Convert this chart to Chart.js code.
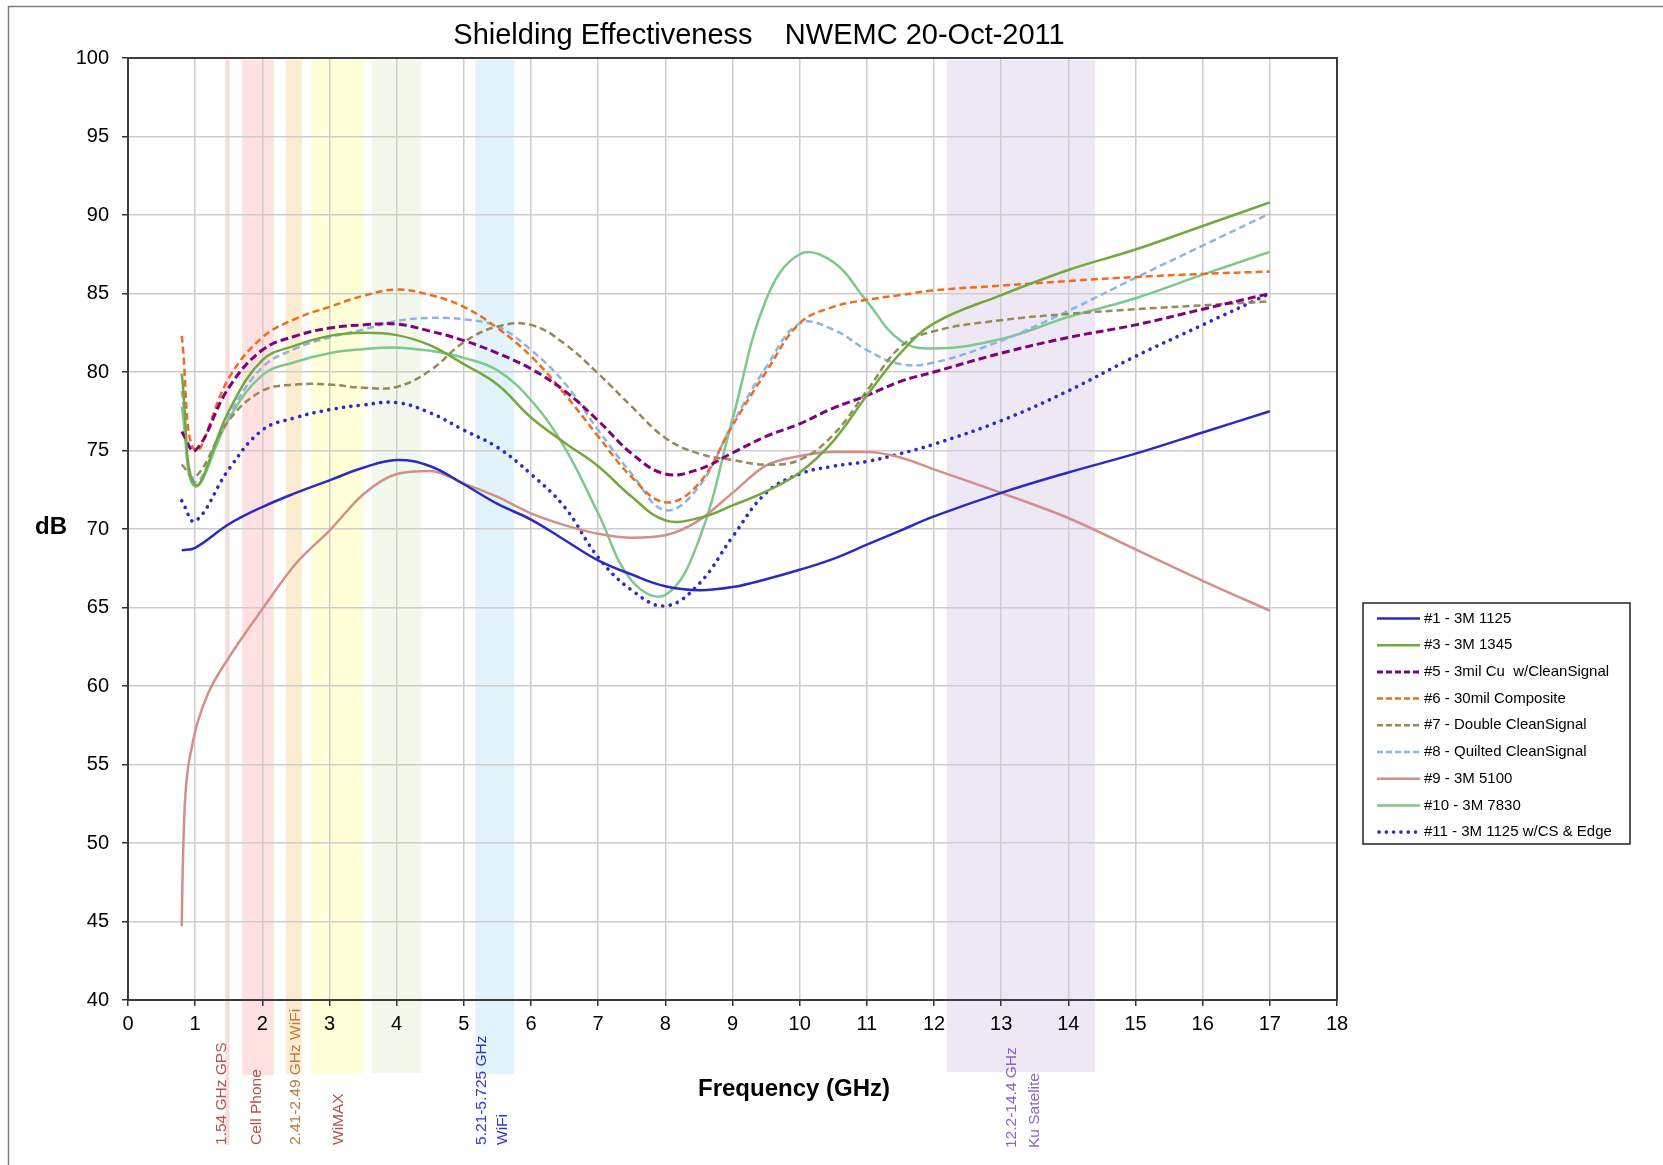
<!DOCTYPE html>
<html>
<head>
<meta charset="utf-8">
<title>Shielding Effectiveness</title>
<script src="https://cdn.jsdelivr.net/npm/chart.js@4.4.0/dist/chart.umd.min.js"></script>
<style>
  html, body { margin: 0; padding: 0; background: #fff; }
  #wrap { position: relative; width: 1663px; height: 1165px; }
</style>
</head>
<body>
<div id="wrap"><canvas id="seChart"></canvas></div>
<script>
// frequencies (GHz) where the curves were read
const freqs = [0.8, 1, 1.5, 2, 2.5, 3, 3.5, 4, 4.5, 5, 5.5, 6, 6.5, 7, 7.5, 8, 8.5, 9, 9.5, 10, 10.5, 11, 11.5, 12, 13, 14, 15, 16, 17];
const freqs9 = [0.8, 0.81, 0.84, 0.88, 0.95, 1.03, 1.2, 1.5, 2, 2.5, 3, 3.5, 4, 4.5, 5, 5.5, 6, 6.5, 7, 7.5, 8, 8.5, 9, 9.5, 10, 10.5, 11, 11.5, 12, 13, 14, 15, 16, 17];

// shielding (dB)
const se1  = [68.65, 68.8, 70.3, 71.4, 72.3, 73.1, 73.9, 74.4, 74.0, 72.85, 71.6, 70.6, 69.3, 68.0, 67.1, 66.35, 66.1, 66.3, 66.8, 67.4, 68.1, 69.0, 69.9, 70.8, 72.3, 73.6, 74.8, 76.15, 77.5];
const se3  = [79.9, 72.8, 77.5, 80.75, 81.7, 82.3, 82.5, 82.35, 81.7, 80.5, 79.2, 77.1, 75.5, 74.0, 72.05, 70.55, 70.7, 71.5, 72.4, 73.6, 75.6, 78.5, 81.2, 83.1, 84.9, 86.5, 87.8, 89.3, 90.8];
const se5  = [76.2, 75.0, 79.0, 81.4, 82.3, 82.8, 83.0, 83.05, 82.6, 82.0, 81.2, 80.2, 78.8, 76.9, 74.8, 73.5, 73.8, 74.85, 75.9, 76.7, 77.7, 78.5, 79.4, 80.0, 81.2, 82.2, 83.0, 84.0, 85.0];
const se6  = [82.3, 75.0, 79.6, 82.2, 83.4, 84.15, 84.85, 85.25, 84.9, 84.15, 82.8, 81.0, 78.6, 75.9, 73.3, 71.7, 72.9, 76.6, 80.0, 83.1, 84.15, 84.6, 84.9, 85.2, 85.5, 85.8, 86.05, 86.25, 86.4];
const se7  = [74.1, 73.3, 76.9, 78.8, 79.2, 79.2, 79.0, 79.05, 80.1, 81.9, 82.9, 83.0, 81.8, 79.9, 77.8, 75.8, 74.8, 74.4, 74.1, 74.4, 76.0, 78.8, 81.6, 82.6, 83.3, 83.7, 84.0, 84.25, 84.5];
const se8  = [78.8, 73.0, 77.2, 80.3, 81.5, 82.2, 82.7, 83.25, 83.45, 83.35, 82.9, 81.4, 79.3, 76.3, 73.5, 71.2, 72.7, 76.7, 80.3, 83.1, 82.7, 81.4, 80.5, 80.6, 82.0, 83.9, 86.0, 88.05, 90.1];
const se9  = [44.7, 47.4, 51.9, 54.3, 56.1, 57.6, 59.6, 61.8, 64.9, 67.8, 69.9, 72.2, 73.5, 73.7, 72.9, 72.05, 71.0, 70.25, 69.7, 69.45, 69.6, 70.55, 72.3, 74.05, 74.65, 74.9, 74.9, 74.55, 73.8, 72.3, 70.7, 68.7, 66.7, 64.8];
const se10 = [77.8, 72.7, 77.0, 79.8, 80.65, 81.2, 81.45, 81.55, 81.35, 80.9, 80.1, 78.2, 75.2, 71.0, 66.7, 65.8, 69.3, 77.0, 84.6, 87.5, 87.0, 84.5, 82.0, 81.5, 82.1, 83.5, 84.7, 86.2, 87.65];
const se11 = [71.8, 70.5, 73.8, 76.3, 77.1, 77.6, 77.9, 78.05, 77.4, 76.3, 75.2, 73.5, 71.4, 68.2, 66.1, 65.1, 66.5, 69.5, 72.3, 73.5, 74.0, 74.3, 74.8, 75.4, 76.9, 78.8, 81.0, 83.0, 85.0];

const seriesNames = ["#1 - 3M 1125", "#3 - 3M 1345", "#5 - 3mil Cu  w/CleanSignal", "#6 - 30mil Composite",
  "#7 - Double CleanSignal", "#8 - Quilted CleanSignal", "#9 - 3M 5100", "#10 - 3M 7830", "#11 - 3M 1125 w/CS & Edge"];

// frequency bands (GHz)
const bandFrom = [1.45, 1.70, 2.35, 2.73, 3.63, 5.17, 12.19];
const bandTo   = [1.51, 2.17, 2.59, 3.51, 4.37, 5.75, 14.40];
const bandText = ["1.54 GHz GPS", "Cell Phone", "2.41-2.49 GHz WiFi", "WiMAX", "5.21-5.725 GHz", "WiFi", "12.2-14.4 GHz", "Ku Satelite"];

// ---- styling ----
const FONT = "'Liberation Sans', Arial, sans-serif";
const lineStyles = [
  { color: '#2B2BC4', dash: [], width: 2.5 },
  { color: '#74A83C', dash: [], width: 2.5 },
  { color: '#800080', dash: [8, 4], width: 3 },
  { color: '#F26B1D', dash: [7, 4], width: 2.5 },
  { color: '#958B58', dash: [7, 4], width: 2.5 },
  { color: '#8DB4E2', dash: [7, 4], width: 2.5 },
  { color: '#D48F8C', dash: [], width: 2.5, mono: true },
  { color: '#7CC98E', dash: [], width: 2.5 },
  { color: '#2B2BC8', dash: [0.1, 7.4], width: 3.6, cap: 'round' }
];
const bandFill = ['#F9DADA', '#FFE1E1', '#FDEDD0', '#FFFFD8', '#F2F8EB', '#E2F3FB', '#EEE8F4'];
const bandBottom = [1145, 1075, 1074, 1074, 1073, 1074, 1072];
const labelAt = [1.40, 1.92, 2.49, 3.13, 5.27, 5.58, 13.15, 13.50];
const labelBottom = [1145, 1145, 1145, 1145, 1145, 1145, 1148, 1148];
const labelColor = ['#B4524A', '#B4524A', '#C27A3F', '#B4524A', '#3434CC', '#3434CC', '#8A64C6', '#8A64C6'];

const xsets = [freqs, freqs, freqs, freqs, freqs, freqs, freqs9, freqs, freqs];
const ysets = [se1, se3, se5, se6, se7, se8, se9, se10, se11];

const datasets = ysets.map((ys, k) => ({
  label: seriesNames[k],
  data: xsets[k].map((x, i) => ({ x: x, y: ys[i] })),
  borderColor: lineStyles[k].color,
  backgroundColor: lineStyles[k].color,
  borderWidth: lineStyles[k].width,
  borderDash: lineStyles[k].dash,
  borderCapStyle: lineStyles[k].cap || 'butt',
  cubicInterpolationMode: lineStyles[k].mono ? 'monotone' : 'default',
  tension: 0.4,
  pointRadius: 0,
  fill: false
}));

const decor = {
  id: 'decor',
  beforeDraw(chart) {
    const { ctx, chartArea: a, scales: { x } } = chart;
    ctx.save();
    ctx.fillStyle = '#fff';
    ctx.fillRect(0, 0, chart.width, chart.height);
    bandFrom.forEach((f, i) => {
      const x0 = x.getPixelForValue(f), x1 = x.getPixelForValue(bandTo[i]);
      ctx.fillStyle = bandFill[i];
      ctx.fillRect(x0, a.top + 2, x1 - x0, bandBottom[i] - a.top - 2);
    });
    ctx.restore();
  },
  beforeDatasetsDraw(chart) {
    const { ctx, chartArea: a } = chart;
    ctx.save();
    ctx.strokeStyle = '#3C3C3C';
    ctx.lineWidth = 2;
    ctx.strokeRect(a.left, a.top, a.right - a.left, a.bottom - a.top);
    ctx.restore();
  },
  afterDraw(chart) {
    const { ctx, scales: { x } } = chart;
    ctx.save();
    // title
    ctx.fillStyle = '#000';
    ctx.textAlign = 'center';
    ctx.textBaseline = 'middle';
    ctx.font = '29px ' + FONT;
    ctx.fillText('Shielding Effectiveness    NWEMC 20-Oct-2011', 759, 36);
    // axis titles
    ctx.font = 'bold 24px ' + FONT;
    ctx.fillText('Frequency (GHz)', 794, 1089);
    ctx.fillText('dB', 51, 527);
    // band labels
    ctx.font = '15.5px ' + FONT;
    ctx.textAlign = 'left';
    bandText.forEach((t, i) => {
      ctx.save();
      ctx.translate(x.getPixelForValue(labelAt[i]), labelBottom[i]);
      ctx.rotate(-Math.PI / 2);
      ctx.fillStyle = labelColor[i];
      ctx.fillText(t, 0, 0);
      ctx.restore();
    });
    // legend
    const lx = 1363, ly = 603, lw = 267, lh = 241;
    ctx.fillStyle = '#fff';
    ctx.fillRect(lx, ly, lw, lh);
    ctx.strokeStyle = '#222';
    ctx.lineWidth = 1.5;
    ctx.strokeRect(lx, ly, lw, lh);
    ctx.font = '15px ' + FONT;
    ctx.textBaseline = 'middle';
    chart.data.datasets.forEach((d, i) => {
      const y = 618.5 + i * 26.7;
      const st = lineStyles[i];
      ctx.beginPath();
      ctx.strokeStyle = st.color;
      ctx.lineWidth = st.width;
      ctx.lineCap = st.cap || 'butt';
      ctx.setLineDash(i === 8 ? [0.1, 7.2] : (st.dash.length ? [6, 3] : []));
      ctx.moveTo(i === 8 ? 1379 : 1377, y);
      ctx.lineTo(1420, y);
      ctx.stroke();
      ctx.setLineDash([]);
      ctx.fillStyle = '#000';
      ctx.fillText(d.label, 1424, y);
    });
    // outer frame
    ctx.strokeStyle = '#7F7F7F';
    ctx.lineWidth = 1.5;
    ctx.strokeRect(8.5, 6.5, 1700, 1200);
    ctx.restore();
  }
};

new Chart(document.getElementById('seChart'), {
  type: 'line',
  data: { datasets: datasets },
  options: {
    responsive: true,
    maintainAspectRatio: false,
    animation: false,
    layout: { padding: { left: 0, top: 58, right: 326, bottom: 0 } },
    plugins: {
      legend: { display: false },
      title: { display: false },
      tooltip: { enabled: false }
    },
    scales: {
      x: {
        type: 'linear',
        min: 0,
        max: 18,
        ticks: { stepSize: 1, padding: 6, color: '#000', font: { family: FONT, size: 20 } },
        grid: { color: '#CDCDCD', lineWidth: 1.5, tickColor: '#333', tickLength: 6 },
        border: { color: '#333', width: 2 },
        afterFit(s) { s.height = 165; }
      },
      y: {
        min: 40,
        max: 100,
        ticks: { stepSize: 5, padding: 13, color: '#000', font: { family: FONT, size: 20 } },
        grid: { color: '#CDCDCD', lineWidth: 1.5, tickColor: '#333', tickLength: 6 },
        border: { color: '#333', width: 2 },
        afterFit(s) { s.width = 128; }
      }
    }
  },
  plugins: [decor]
});
</script>
</body>
</html>
